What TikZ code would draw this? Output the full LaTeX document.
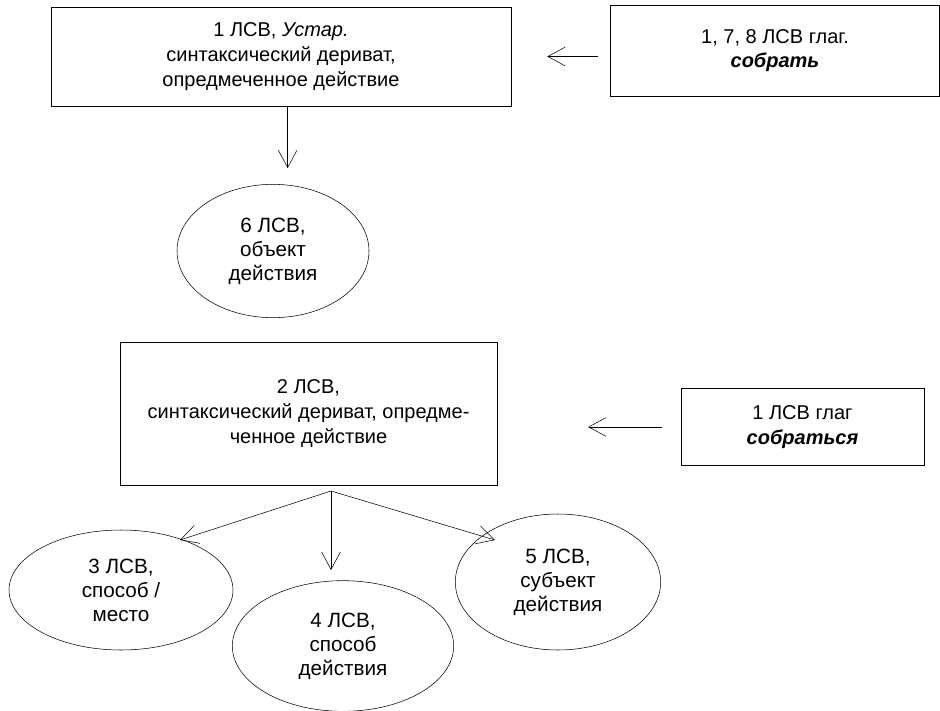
\documentclass[tikz,border=0pt]{standalone}
\usepackage{fontspec}
\setmainfont{Liberation Sans}
\usetikzlibrary{arrows.meta,shapes.geometric}

\tikzset{
  lsvbox/.style={draw, thin, align=center, inner sep=2pt,
    font=\fontsize{15}{18.5}\selectfont},
  lsvell/.style={draw, thin, ellipse, align=center, inner sep=0pt,
    font=\fontsize{15.5}{18}\selectfont},
  arr/.style={thin, -{Straight Barb[length=13pt,width=14pt]}}
}

\begin{document}
\begin{tikzpicture}[x=0.75pt,y=-0.75pt]
  \useasboundingbox (0,0) rectangle (940,711);

  %% top row
  \node[lsvbox, minimum width=345pt, minimum height=74pt] (lsv1) at (281,56.5)
    {1 ЛСВ, \textit{Устар.}\\ синтаксический дериват,\\ опредмеченное действие};
  \node[lsvbox, minimum width=247pt, minimum height=68pt] (sobrat) at (775,50.5)
    {1, 7, 8 ЛСВ глаг.\\ \textbf{\textit{собрать}}};
  \node[lsvell, minimum width=144pt, minimum height=100pt] (lsv6) at (273,251)
    {6 ЛСВ,\\ объект\\ действия};

  %% middle row
  \node[lsvbox, minimum width=283pt, minimum height=107pt] (lsv2) at (308.5,413.5)
    {2 ЛСВ,\\ синтаксический дериват, опредме-\\ ченное действие};
  \node[lsvbox, minimum width=182pt, minimum height=58pt] (sobratsya) at (802.5,427)
    {1 ЛСВ глаг\\ \textbf{\textit{собраться}}};

  %% bottom row
  \node[lsvell, minimum width=168pt, minimum height=90pt] (lsv3) at (121,590)
    {3 ЛСВ,\\ способ /\\ место};
  \node[lsvell, minimum width=166pt, minimum height=98pt] (lsv4) at (343,646)
    {4 ЛСВ,\\ способ\\ действия};
  \node[lsvell, minimum width=154pt, minimum height=102pt] (lsv5) at (558,582)
    {5 ЛСВ,\\ субъект\\ действия};

  %% arrows
  \draw[arr, shorten <=9pt, shorten >=27pt] (sobrat.west |- lsv1.east) -- (lsv1.east);
  \draw[arr, shorten <=14pt, shorten >=68pt] (sobratsya.west) -- (lsv2.east |- sobratsya.west);
  \draw[arr, shorten >=12pt] ([xshift=5pt]lsv1.south) -- ([xshift=5pt]lsv1.south |- lsv6.north);

  \coordinate (fork) at (331,491);
  \coordinate (tip3) at (180,540);
  \coordinate (tip4) at (331,570);
  \coordinate (tip5) at (495,540);
  \draw[arr] (fork) -- (tip3);
  \draw[arr] (fork) -- (tip4);
  \draw[arr] (fork) -- (tip5);

\end{tikzpicture}
\end{document}
